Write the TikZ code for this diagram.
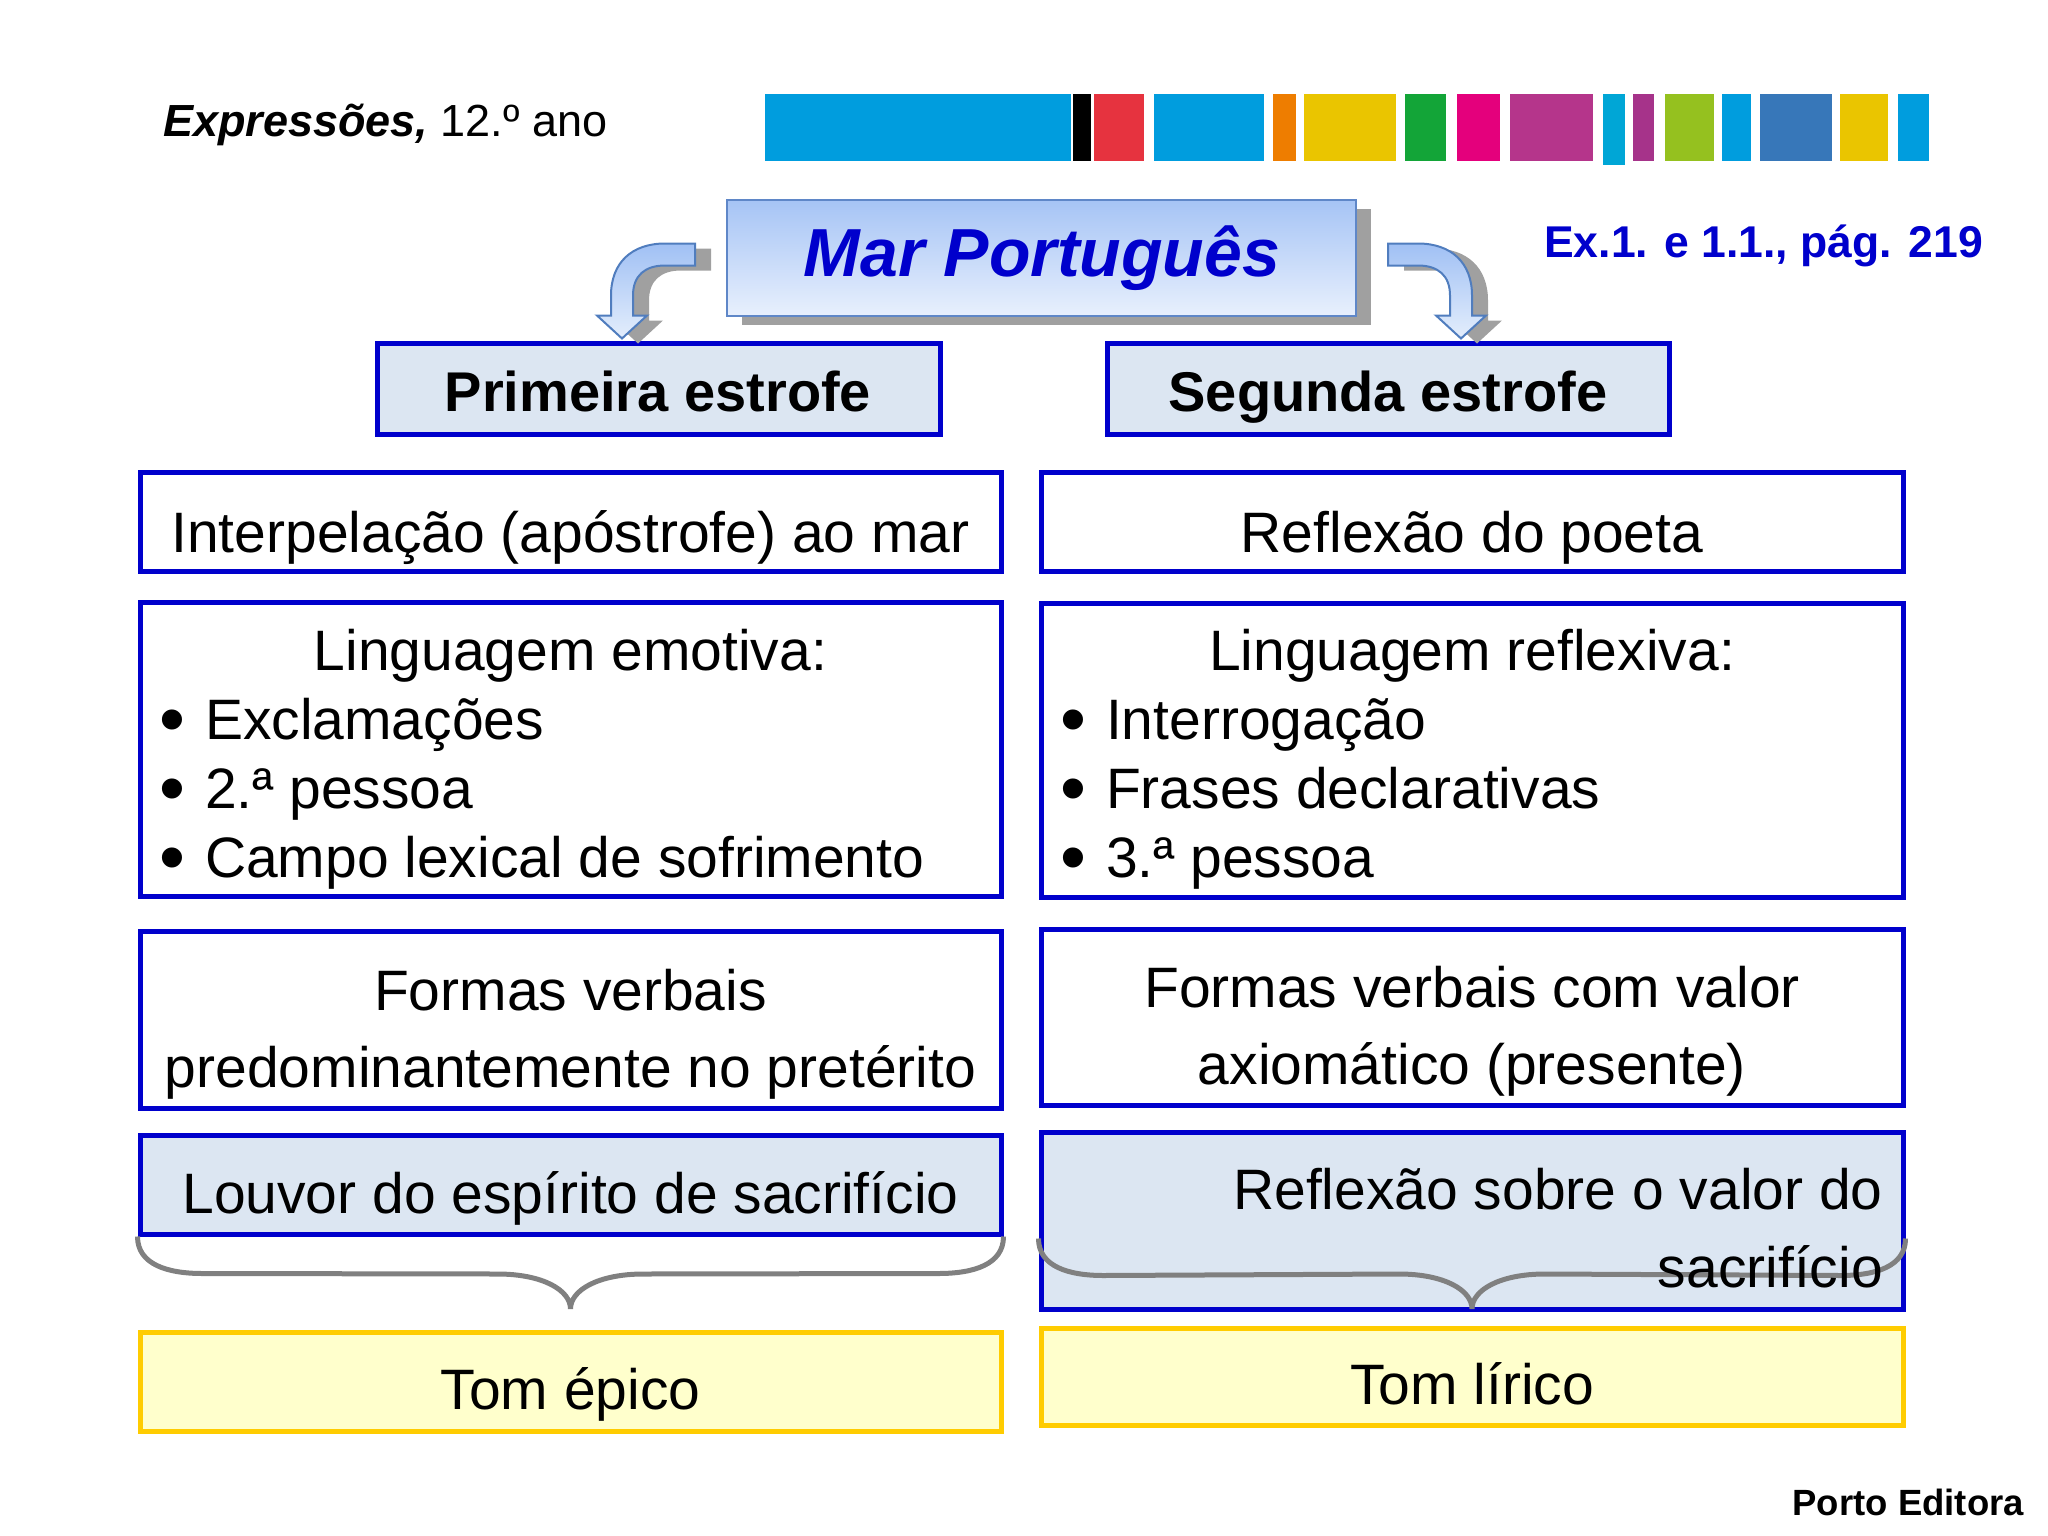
\documentclass[tikz,border=0pt]{standalone}
\usepackage{fontspec}
\setmainfont{Liberation Sans}
\usetikzlibrary{calc,shadows}

\definecolor{boxblue}{RGB}{0,0,204}
\definecolor{titleblue}{RGB}{0,0,204}
\definecolor{headfill}{RGB}{220,230,242}
\definecolor{tomfill}{RGB}{255,255,204}
\definecolor{tomgold}{RGB}{255,204,0}
\definecolor{bracegray}{RGB}{128,128,128}
\definecolor{shadowgray}{RGB}{160,160,160}
\definecolor{titletop}{RGB}{166,196,245}
\definecolor{titlebot}{RGB}{232,240,253}
\definecolor{titleline}{RGB}{95,135,200}
\definecolor{arrowtop}{RGB}{160,192,244}
\definecolor{arrowbot}{RGB}{228,238,252}
\definecolor{arrowline}{RGB}{80,125,190}
% colour bar
\definecolor{barblue}{RGB}{0,157,222}
\definecolor{barred}{RGB}{230,51,63}
\definecolor{barorange}{RGB}{238,125,0}
\definecolor{baryellow}{RGB}{234,197,0}
\definecolor{bargreen}{RGB}{19,165,56}
\definecolor{barmagenta}{RGB}{228,0,124}
\definecolor{barpurple}{RGB}{181,53,139}
\definecolor{barcyan}{RGB}{0,166,214}
\definecolor{barplum}{RGB}{166,51,138}
\definecolor{barlime}{RGB}{149,193,31}
\definecolor{barsteel}{RGB}{55,119,185}

\newcommand{\bodysize}{\fontsize{57}{69}\selectfont}
\newcommand{\headsize}{\fontsize{56}{67}\selectfont\bfseries}
\newcommand{\bigbullet}{\raisebox{-5pt}{\fontsize{74}{69}\selectfont •}}

% bent block arrow, #1 = tip, #2 = 1 (turns left) or -1 (turns right)
\newcommand{\bentarrow}[2]{%
  \foreach \s/\sty in {1/arrowshadow, 0/arrowbody}
    \draw[\sty, shift={(#1)}, shift={(16*\s,5*\s)}, xscale=#2]
      (73,-95) -- (43,-95) .. controls (10,-95) and (-11,-76) .. (-11,-43)
      -- (-11,-23) -- (-25,-23) -- (0,0) -- (25,-23) -- (11,-23) -- (11,-43)
      .. controls (11,-63) and (23,-73) .. (43,-73) -- (73,-73) -- cycle;
}
% curly bracket, #1 = left end, #2 = tip, #3 = right end
\newcommand{\curlybrace}[3]{%
  \draw[brace] (#1) .. controls +(0,28) and +(-35,0) .. ++(65,37)
    -- ($(#2)+(-73,-35)$) .. controls +(45,0) and +(0,-19) .. (#2)
    .. controls +(0,-19) and +(-45,0) .. ($(#2)+(73,-35)$)
    -- ($(#3)+(-65,37)$) .. controls +(35,0) and +(0,28) .. (#3);
}

\begin{document}
\begin{tikzpicture}[x=1pt, y=-1pt,
    bluebox/.style={draw=boxblue, line width=5pt, fill=white, inner sep=0pt},
    headbox/.style={bluebox, fill=headfill},
    tombox/.style={draw=tomgold, line width=5pt, fill=tomfill, inner sep=0pt},
    titlebox/.style={draw=titleline, line width=2pt, top color=titletop, bottom color=titlebot,
      drop shadow={shadow xshift=15pt, shadow yshift=-9pt, fill=shadowgray, opacity=1}},
    arrowshadow/.style={fill=shadowgray, draw=none},
    arrowbody/.style={draw=arrowline, line width=2pt, top color=arrowtop, bottom color=arrowbot},
    brace/.style={draw=bracegray, line width=5pt},
    txt/.style={inner sep=0pt, anchor=base, font=\bodysize}]
\useasboundingbox (0,0) rectangle (2048,1536);

% Top line
\node[txt, anchor=base west, font=\fontsize{45}{54}\selectfont] (serie) at (163,137)
  {\textbf{\textit{Expressões,}} 12.º ano};
\foreach \xa/\xb/\col/\yb in {765/1071/barblue/161, 1073/1091/black/161, 1094/1144/barred/161,
    1154/1264/barblue/161, 1273/1296/barorange/161, 1304/1396/baryellow/161, 1405/1446/bargreen/161,
    1457/1500/barmagenta/161, 1510/1593/barpurple/161, 1603/1625/barcyan/165, 1633/1654/barplum/161,
    1665/1714/barlime/161, 1722/1751/barblue/161, 1760/1832/barsteel/161, 1840/1888/baryellow/161,
    1898/1929/barblue/161}
  \fill[\col] (\xa,94) rectangle (\xb,\yb);

% Title
\node[titlebox, minimum width=629pt, minimum height=116pt] (title) at (1041.5,258) {};
\node[txt, font=\fontsize{68}{80}\selectfont\bfseries\itshape, text=titleblue] (titletxt) at (1042,276) {Mar Português};
\node[txt, anchor=base west, font=\fontsize{44.5}{54}\selectfont\bfseries, text=titleblue] (exref) at (1544,257)
  {Ex.1. e 1.1., pág. 219};

% Headers
\node[headbox, minimum width=563pt, minimum height=91pt] (prim) at (658.5,388.5) {};
\node[headbox, minimum width=562pt, minimum height=91pt] (seg) at (1388,388.5) {};
\node[txt, font=\headsize] (primtxt) at (658,411) {Primeira estrofe};
\node[txt, font=\headsize] (segtxt) at (1388,411) {Segunda estrofe};

\coordinate (tipL) at ([xshift=-36.5pt, yshift=2pt]prim.north);
\coordinate (tipR) at ([xshift=73pt, yshift=2pt]seg.north);
\bentarrow{tipL}{1}
\bentarrow{tipR}{-1}

% Boxes, left column
\node[bluebox, minimum width=861pt, minimum height=99pt] (interp) at (570.5,521.5) {};
\node[bluebox, minimum width=861pt, minimum height=294pt] (emot) at (570.5,749) {};
\node[bluebox, minimum width=861pt, minimum height=177pt] (formL) at (570.5,1019.5) {};
\node[headbox, minimum width=861pt, minimum height=99pt] (louvor) at (570.5,1184.5) {};
\node[tombox, minimum width=861pt, minimum height=99pt] (epico) at (570.5,1381.5) {};

% Boxes, right column
\node[bluebox, minimum width=862pt, minimum height=99pt] (reflex) at (1472,521.5) {};
\node[bluebox, minimum width=862pt, minimum height=294pt] (refl) at (1472,750) {};
\node[bluebox, minimum width=862pt, minimum height=176pt] (formR) at (1472,1017) {};
\node[headbox, minimum width=862pt, minimum height=177pt] (valor) at (1472,1220.5) {};
\node[tombox, minimum width=862pt, minimum height=97pt] (lirico) at (1472,1376.5) {};

% Brackets
\coordinate (tipE) at ([yshift=20.5pt]epico.north);
\coordinate (tipLi) at ([yshift=16.5pt]lirico.north);
\coordinate (valW) at ([yshift=73pt]valor.south west);
\coordinate (valE) at ([yshift=73pt]valor.south east);
\curlybrace{louvor.south west}{tipE}{louvor.south east}
\curlybrace{valW}{tipLi}{valE}

% Texts, left column
\node[txt] (interptxt) at (570.5,552) {Interpelação (apóstrofe) ao mar};
\node[txt] (emottxt) at (570.5,670) {Linguagem emotiva:};
\foreach \t [count=\i from 0] in {Exclamações, 2.ª pessoa, Campo lexical de sofrimento}
  \node[txt, anchor=base west] (emot-\i) at (159,739+69*\i) {\bigbullet\hspace{20pt}\t};
\node[txt] (formLa) at (570.5,1010) {Formas verbais};
\node[txt] (formLb) at (570.5,1087) {predominantemente no pretérito};
\node[txt] (louvortxt) at (570.5,1213) {Louvor do espírito de sacrifício};
\node[txt] (epicotxt) at (570.5,1409) {Tom épico};

% Texts, right column
\node[txt] (reflextxt) at (1472,552) {Reflexão do poeta};
\node[txt] (refltxt) at (1472,670) {Linguagem reflexiva:};
\foreach \t [count=\i from 0] in {Interrogação, Frases declarativas, 3.ª pessoa}
  \node[txt, anchor=base west] (refl-\i) at (1060,739+69*\i) {\bigbullet\hspace{20pt}\t};
\node[txt] (formRa) at (1472,1007) {Formas verbais com valor};
\node[txt] (formRb) at (1472,1084) {axiomático (presente)};
\node[txt, anchor=base east] (valora) at (1883,1209) {Reflexão sobre o valor do};
\node[txt, anchor=base east] (valorb) at (1883,1287) {sacrifício};
\node[txt] (liricotxt) at (1472,1404) {Tom lírico};

\node[txt, anchor=base east, font=\fontsize{36.5}{44}\selectfont\bfseries] (editora) at (2024,1515) {Porto Editora};
\end{tikzpicture}
\end{document}
